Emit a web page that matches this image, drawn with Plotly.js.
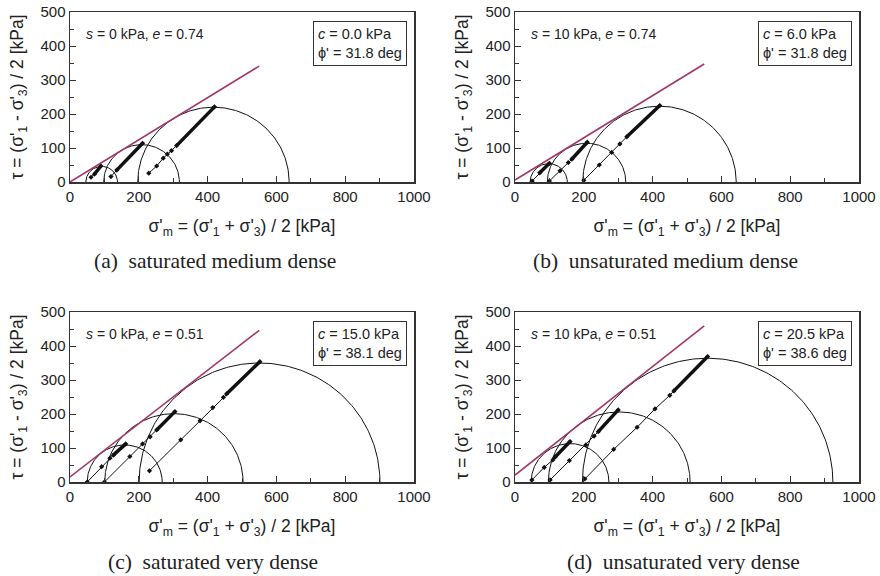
<!DOCTYPE html>
<html>
<head>
<meta charset="utf-8">
<script src="https://cdn.plot.ly/plotly-3.0.1.min.js"></script>
<style>html,body{margin:0;padding:0;background:#fff;}#chart{width:880px;height:576px;}</style>
</head>
<body>
<div id="chart"></div>
<script>
// ---------- data ----------
const panelKeys = ['a', 'b', 'c', 'd'];
const captions = ['(a)&nbsp;&nbsp;saturated medium dense', '(b)&nbsp;&nbsp;unsaturated medium dense',
                  '(c)&nbsp;&nbsp;saturated very dense', '(d)&nbsp;&nbsp;unsaturated very dense'];
const conditionLabels = ['<i>s</i> = 0 kPa, <i>e</i> = 0.74', '<i>s</i> = 10 kPa, <i>e</i> = 0.74',
                         '<i>s</i> = 0 kPa, <i>e</i> = 0.51', '<i>s</i> = 10 kPa, <i>e</i> = 0.51'];
const cohesion = ['0.0', '6.0', '15.0', '20.5'];
const frictionAngle = ['31.8', '31.8', '38.1', '38.6'];

// Mohr circles: centres and radii (kPa)
const centersA = [92, 208, 417],  radiiA = [46, 110, 220];
const centersB = [98, 208, 420],  radiiB = [54, 114, 223];
const centersC = [159, 302, 551], radiiC = [109, 201, 350];
const centersD = [160, 303, 560], radiiD = [113, 206, 364];

// Failure envelopes
const envXA = [0, 550], envYA = [0, 341];
const envXB = [0, 550], envYB = [6, 347];
const envXC = [0, 550], envYC = [15, 446];
const envXD = [0, 550], envYD = [20.5, 459];

// Stress paths (last segment = densely sampled part)
const pathA1x = [61, 71, 90],                        pathA1y = [14, 23, 47];
const pathA2x = [119, 136, 211],                     pathA2y = [16, 35, 114];
const pathA3x = [229, 252, 271, 283, 295, 310, 420], pathA3y = [26, 47, 70, 82, 92, 107, 221];
const pathB1x = [50, 72, 100],                       pathB1y = [3, 27, 55];
const pathB2x = [100, 131, 155, 165, 210],           pathB2y = [3, 33, 57, 67, 117];
const pathB3x = [200, 245, 281, 305, 325, 421],      pathB3y = [5, 50, 87, 112, 133, 225];
const pathC1x = [50, 92, 116, 126, 162],             pathC1y = [0, 45, 70, 79, 112];
const pathC2x = [100, 174, 211, 233, 252, 305],      pathC2y = [0, 75, 112, 133, 153, 207];
const pathC3x = [231, 322, 378, 415, 446, 455, 552], pathC3y = [33, 124, 180, 219, 249, 259, 354];
const pathD1x = [49, 85, 110, 116, 160],             pathD1y = [6, 43, 65, 73, 119];
const pathD2x = [102, 158, 206, 230, 242, 300],      pathD2y = [6, 63, 109, 135, 148, 212];
const pathD3x = [203, 287, 355, 407, 450, 462, 560], pathD3y = [9, 96, 161, 215, 255, 268, 369];

const xTickVals = [0, 200, 400, 600, 800, 1000];
const yTickVals = [0, 100, 200, 300, 400, 500];

// ---------- build ----------
const panels = [
  {centers: centersA, radii: radiiA, envX: envXA, envY: envYA, paths: [[pathA1x, pathA1y], [pathA2x, pathA2y], [pathA3x, pathA3y]]},
  {centers: centersB, radii: radiiB, envX: envXB, envY: envYB, paths: [[pathB1x, pathB1y], [pathB2x, pathB2y], [pathB3x, pathB3y]]},
  {centers: centersC, radii: radiiC, envX: envXC, envY: envYC, paths: [[pathC1x, pathC1y], [pathC2x, pathC2y], [pathC3x, pathC3y]]},
  {centers: centersD, radii: radiiD, envX: envXD, envY: envYD, paths: [[pathD1x, pathD1y], [pathD2x, pathD2y], [pathD3x, pathD3y]]}
];

const W = 880, H = 576;
const xDomPx = [[70, 414], [515, 859], [70, 414], [515, 859]];
const yDomPx = [[12, 182], [12, 182], [312, 482], [312, 482]];
const captionPx = [[215, 261], [665, 261], [213, 562], [683, 562]];

const traces = [];
const layout = {
  width: W, height: H, showlegend: false,
  margin: {l: 0, r: 0, t: 0, b: 0},
  paper_bgcolor: '#fff', plot_bgcolor: '#fff',
  font: {family: '"Liberation Sans", Arial, sans-serif', size: 15, color: '#222'},
  annotations: []
};

panels.forEach((p, i) => {
  const n = i === 0 ? '' : String(i + 1);
  const xa = 'x' + n, ya = 'y' + n;
  // circles (upper semicircles)
  p.centers.forEach((c, k) => {
    const r = p.radii[k];
    const cx = [], cy = [];
    for (let a = 180; a >= 0; a -= 1) {
      const t = a * Math.PI / 180;
      cx.push(c + r * Math.cos(t));
      cy.push(r * Math.sin(t));
    }
    traces.push({x: cx, y: cy, xaxis: xa, yaxis: ya, mode: 'lines', type: 'scatter',
      line: {color: '#111', width: 1}, hoverinfo: 'skip', cliponaxis: true});
  });
  // envelope
  traces.push({x: p.envX, y: p.envY, xaxis: xa, yaxis: ya, mode: 'lines', type: 'scatter',
    line: {color: '#a3366a', width: 1.6}, hoverinfo: 'skip'});
  // stress paths
  p.paths.forEach(([px, py]) => {
    traces.push({x: px, y: py, xaxis: xa, yaxis: ya, mode: 'lines+markers', type: 'scatter',
      line: {color: '#111', width: 1}, marker: {symbol: 'diamond', size: 4, color: '#111'}, hoverinfo: 'skip'});
    const m = px.length;
    traces.push({x: px.slice(m - 2), y: py.slice(m - 2), xaxis: xa, yaxis: ya, mode: 'lines', type: 'scatter',
      line: {color: '#111', width: 3.5}, hoverinfo: 'skip'});
  });

  const xd = xDomPx[i], yd = yDomPx[i];
  layout['xaxis' + n] = {
    domain: [xd[0] / W, xd[1] / W], anchor: ya, range: [0, 1000],
    tickvals: xTickVals, ticks: 'inside', ticklen: 6, tickwidth: 1, tickcolor: '#333',
    minor: {dtick: 100, ticks: 'inside', ticklen: 4, tickwidth: 1, tickcolor: '#333'},
    showgrid: false, zeroline: false, showline: true, mirror: true, linecolor: '#333', linewidth: 1.5,
    tickfont: {size: 15, color: '#222'},
    title: {text: "σ'<sub>m</sub> = (σ'<sub>1</sub> + σ'<sub>3</sub>) / 2 [kPa]", font: {size: 17.5, color: '#222'}, standoff: 16}
  };
  layout['yaxis' + n] = {
    domain: [1 - yd[1] / H, 1 - yd[0] / H], anchor: xa, range: [0, 500],
    tickvals: yTickVals, ticks: 'inside', ticklen: 6, tickwidth: 1, tickcolor: '#333',
    minor: {dtick: 50, ticks: 'inside', ticklen: 4, tickwidth: 1, tickcolor: '#333'},
    showgrid: false, zeroline: false, showline: true, mirror: true, linecolor: '#333', linewidth: 1.5,
    tickfont: {size: 15, color: '#222'},
    title: {text: "τ = (σ'<sub>1</sub> - σ'<sub>3</sub>) / 2 [kPa]", font: {size: 17.5, color: '#222'}, standoff: 12}
  };
  layout.annotations.push({
    xref: xa, yref: ya, x: 40, y: 435, xanchor: 'left', yanchor: 'middle', showarrow: false,
    text: conditionLabels[i], font: {size: 14, color: '#222'}
  });
  layout.annotations.push({
    xref: xa, yref: ya, x: 980, y: 474, xanchor: 'right', yanchor: 'top', showarrow: false, align: 'left',
    text: '<i>c</i> = ' + cohesion[i] + ' kPa<br>ϕ\' = ' + frictionAngle[i] + ' deg',
    font: {size: 14.5, color: '#222'}, bordercolor: '#333', borderwidth: 1, borderpad: 4, bgcolor: '#fff'
  });
  layout.annotations.push({
    xref: 'paper', yref: 'paper', x: captionPx[i][0] / W, y: 1 - captionPx[i][1] / H,
    xanchor: 'center', yanchor: 'middle', showarrow: false, text: captions[i],
    font: {family: '"Liberation Serif", "Times New Roman", serif', size: 21.5, color: '#222'}
  });
});

Plotly.newPlot('chart', traces, layout, {staticPlot: true, displayModeBar: false});
</script>
</body>
</html>
